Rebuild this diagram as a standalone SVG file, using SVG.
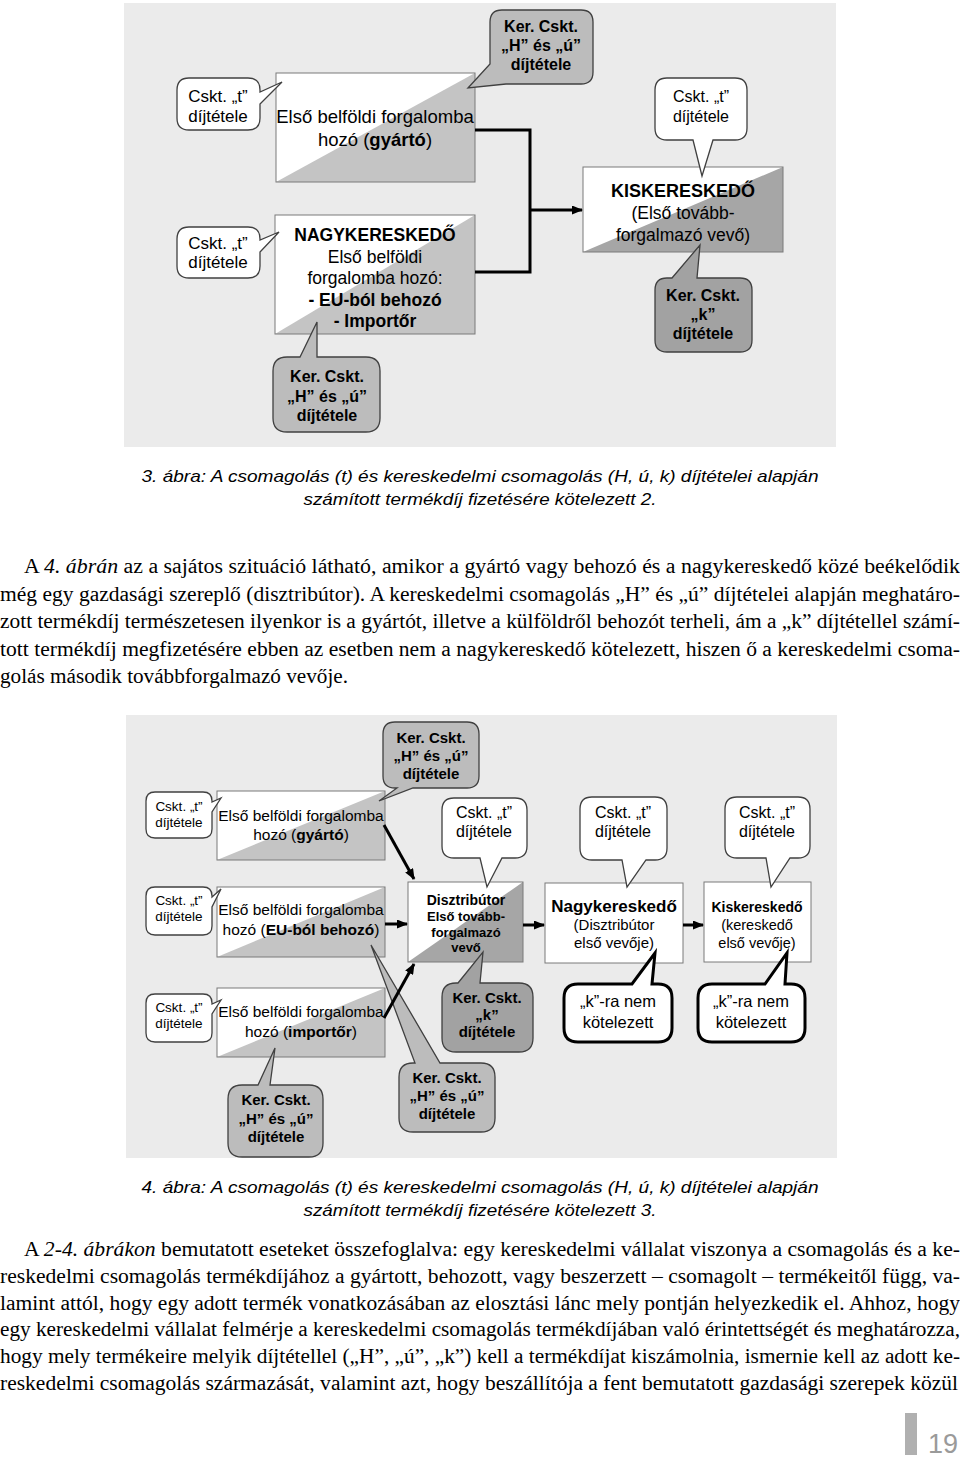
<svg xmlns="http://www.w3.org/2000/svg" width="960" height="1458" viewBox="0 0 960 1458">
<style>
.bg{fill:#ebebeb}
.bw{fill:#fff}
.ol{fill:none;stroke:#7a7a7a;stroke-width:1}
.tri1{fill:#c4c4c4}
.tri2{fill:#a6a6a6}
.cw{fill:#fff;stroke:#404040;stroke-width:1.3}
.cg{fill:#bcbcbc;stroke:#404040;stroke-width:1.3}
.cd{fill:#a2a2a2;stroke:#404040;stroke-width:1.3}
.cb{fill:#fff;stroke:#000;stroke-width:3}
.t{font-family:"Liberation Sans",Arial,sans-serif;fill:#000;text-anchor:middle}
.b{font-weight:bold}
.conn{stroke:#000;stroke-width:3;fill:none}
.body{font-family:"Liberation Serif","Times New Roman",serif;font-size:20.5px;fill:#000}
.cap{font-family:"Liberation Sans",Arial,sans-serif;font-style:italic;font-size:16.5px;text-anchor:middle;fill:#000}
</style>
<defs>
<marker id="ah" markerUnits="userSpaceOnUse" markerWidth="11" markerHeight="9" refX="10" refY="4.5" orient="auto">
<path d="M0,0 L11,4.5 L0,9 Z" fill="#000"/>
</marker>
</defs>
<rect width="960" height="1458" fill="#fff"/>

<!-- ===== Figure 3 ===== -->
<rect class="bg" x="124" y="3" width="712" height="444"/>

<g id="box-gyarto">
<rect class="bw" x="276" y="73" width="199" height="109"/>
<polygon class="tri1" points="276,182 475,73 475,182"/>
<rect class="ol" x="276" y="73" width="199" height="109"/>
<text class="t" font-size="18.5" x="375" y="123">Első belföldi forgalomba</text>
<text class="t" font-size="18.5" x="375" y="146">hozó (<tspan class="b">gyártó</tspan>)</text>
</g>

<g id="box-nagyker">
<rect class="bw" x="275" y="215" width="200" height="119"/>
<polygon class="tri1" points="275,334 475,215 475,334"/>
<rect class="ol" x="275" y="215" width="200" height="119"/>
<text class="t b" font-size="17.5" x="375" y="241">NAGYKERESKEDŐ</text>
<text class="t" font-size="17.5" x="375" y="263">Első belföldi</text>
<text class="t" font-size="17.5" x="375" y="284">forgalomba hozó:</text>
<text class="t b" font-size="17.5" x="375" y="306">- EU-ból behozó</text>
<text class="t b" font-size="17.5" x="375" y="327">- Importőr</text>
</g>

<g id="box-kisker">
<rect class="bw" x="583" y="167" width="200" height="85"/>
<polygon class="tri2" points="583,252 783,167 783,252"/>
<rect class="ol" x="583" y="167" width="200" height="85"/>
<text class="t b" font-size="18" x="683" y="197">KISKERESKEDŐ</text>
<text class="t" font-size="17.5" x="683" y="219">(Első tovább-</text>
<text class="t" font-size="17.5" x="683" y="241">forgalmazó vevő)</text>
</g>

<g id="call-t1">
<path class="cw" d="M189,78 H248 Q260,78 260,90 V92 L282,82 L260,104 V118 Q260,130 248,130 H189 Q177,130 177,118 V90 Q177,78 189,78 Z"/>
<text class="t" font-size="17" x="218" y="102">Cskt. „t”</text>
<text class="t" font-size="17" x="218" y="122">díjtétele</text>
</g>

<g id="call-hu1">
<path class="cg" d="M502,10 H581 Q593,10 593,22 V72 Q593,84 581,84 H506 L468,88 L490,64 V22 Q490,10 502,10 Z"/>
<text class="t b" font-size="16" x="541" y="32">Ker. Cskt.</text>
<text class="t b" font-size="16" x="541" y="51">„H” és „ú”</text>
<text class="t b" font-size="16" x="541" y="70">díjtétele</text>
</g>

<g id="call-t3">
<path class="cw" d="M667,78 H735 Q747,78 747,90 V128 Q747,140 735,140 H713 L702,176 L693,140 H667 Q655,140 655,128 V90 Q655,78 667,78 Z"/>
<text class="t" font-size="16" x="701" y="102">Cskt. „t”</text>
<text class="t" font-size="16" x="701" y="122">díjtétele</text>
</g>

<g id="call-k1">
<path class="cd" d="M667,278 H672 L700,245 L697,278 H740 Q752,278 752,290 V340 Q752,352 740,352 H667 Q655,352 655,340 V290 Q655,278 667,278 Z"/>
<text class="t b" font-size="16" x="703" y="301">Ker. Cskt.</text>
<text class="t b" font-size="16" x="703" y="320">„k”</text>
<text class="t b" font-size="16" x="703" y="339">díjtétele</text>
</g>

<g id="call-t2">
<path class="cw" d="M189,227 H248 Q260,227 260,239 V240 L279,232 L260,252 V266 Q260,278 248,278 H189 Q177,278 177,266 V239 Q177,227 189,227 Z"/>
<text class="t" font-size="17" x="218" y="249">Cskt. „t”</text>
<text class="t" font-size="17" x="218" y="268">díjtétele</text>
</g>

<g id="call-hu2">
<path class="cg" d="M287,357 H300 L317,322 L317,357 H366 Q380,357 380,371 V418 Q380,432 366,432 H287 Q273,432 273,418 V371 Q273,357 287,357 Z"/>
<text class="t b" font-size="16" x="327" y="382">Ker. Cskt.</text>
<text class="t b" font-size="16" x="327" y="402">„H” és „ú”</text>
<text class="t b" font-size="16" x="327" y="421">díjtétele</text>
</g>

<g id="connectors-fig3">
<polyline class="conn" points="475,130 530,130 530,272 475,272"/>
<line class="conn" x1="530" y1="210" x2="582" y2="210" marker-end="url(#ah)"/>
</g>

<g id="caption3">
<text class="cap" x="480" y="482" textLength="677" lengthAdjust="spacingAndGlyphs">3. ábra: A csomagolás (t) és kereskedelmi csomagolás (H, ú, k) díjtételei alapján</text>
<text class="cap" x="480" y="505" textLength="353" lengthAdjust="spacingAndGlyphs">számított termékdíj fizetésére kötelezett 2.</text>
</g>

<g id="para1" class="body">
<text x="24" y="573" textLength="936" lengthAdjust="spacingAndGlyphs">A <tspan font-style="italic">4. ábrán</tspan> az a sajátos szituáció látható, amikor a gyártó vagy behozó és a nagykereskedő közé beékelődik</text>
<text x="0" y="600.5" textLength="960" lengthAdjust="spacingAndGlyphs">még egy gazdasági szereplő (disztribútor). A kereskedelmi csomagolás „H” és „ú” díjtételei alapján meghatáro-</text>
<text x="0" y="628" textLength="960" lengthAdjust="spacingAndGlyphs">zott termékdíj természetesen ilyenkor is a gyártót, illetve a külföldről behozót terheli, ám a „k” díjtétellel számí-</text>
<text x="0" y="655.5" textLength="960" lengthAdjust="spacingAndGlyphs">tott termékdíj megfizetésére ebben az esetben nem a nagykereskedő kötelezett, hiszen ő a kereskedelmi csoma-</text>
<text x="0" y="683" textLength="348" lengthAdjust="spacingAndGlyphs">golás második továbbforgalmazó vevője.</text>
</g>

<!-- ===== Figure 4 ===== -->
<rect class="bg" x="126" y="715" width="711" height="443"/>

<g id="box-a">
<rect class="bw" x="217" y="791" width="168" height="69"/>
<polygon class="tri1" points="217,860 385,791 385,860"/>
<rect class="ol" x="217" y="791" width="168" height="69"/>
<text class="t" font-size="15.5" x="301" y="821">Első belföldi forgalomba</text>
<text class="t" font-size="15.5" x="301" y="840">hozó (<tspan class="b">gyártó</tspan>)</text>
</g>

<g id="box-b">
<rect class="bw" x="217" y="887" width="168" height="70"/>
<polygon class="tri1" points="217,957 385,887 385,957"/>
<rect class="ol" x="217" y="887" width="168" height="70"/>
<text class="t" font-size="15.5" x="301" y="915">Első belföldi forgalomba</text>
<text class="t" font-size="15.5" x="301" y="935">hozó (<tspan class="b">EU-ból behozó</tspan>)</text>
</g>

<g id="box-c">
<rect class="bw" x="217" y="988" width="168" height="69"/>
<polygon class="tri1" points="217,1057 385,988 385,1057"/>
<rect class="ol" x="217" y="988" width="168" height="69"/>
<text class="t" font-size="15.5" x="301" y="1017">Első belföldi forgalomba</text>
<text class="t" font-size="15.5" x="301" y="1037">hozó (<tspan class="b">importőr</tspan>)</text>
</g>

<g id="box-dist">
<rect class="bw" x="408" y="882" width="115" height="80"/>
<polygon class="tri2" points="408,962 523,882 523,962"/>
<rect class="ol" x="408" y="882" width="115" height="80"/>
<text class="t b" font-size="14" x="466" y="905">Disztribútor</text>
<text class="t b" font-size="13" x="466" y="921">Első tovább-</text>
<text class="t b" font-size="13" x="466" y="937">forgalmazó</text>
<text class="t b" font-size="13" x="466" y="952">vevő</text>
</g>

<g id="box-nagy">
<rect class="bw" x="545" y="883" width="138" height="80"/>
<rect class="ol" x="545" y="883" width="138" height="80"/>
<text class="t b" font-size="17" x="614" y="912">Nagykereskedő</text>
<text class="t" font-size="15" x="614" y="930">(Disztribútor</text>
<text class="t" font-size="15" x="614" y="948">első vevője)</text>
</g>

<g id="box-kisk">
<rect class="bw" x="704" y="882" width="107" height="80"/>
<rect class="ol" x="704" y="882" width="107" height="80"/>
<text class="t b" font-size="14" x="757" y="912">Kiskereskedő</text>
<text class="t" font-size="14.5" x="757" y="930">(kereskedő</text>
<text class="t" font-size="14.5" x="757" y="948">első vevője)</text>
</g>

<g id="call4-hu-top">
<path class="cg" d="M395,722 H467 Q479,722 479,734 V776 Q479,788 467,788 H413 L379,801 L397,788 H395 Q383,788 383,776 V734 Q383,722 395,722 Z"/>
<text class="t b" font-size="15" x="431" y="743">Ker. Cskt.</text>
<text class="t b" font-size="15" x="431" y="761">„H” és „ú”</text>
<text class="t b" font-size="15" x="431" y="779">díjtétele</text>
</g>

<g id="call4-t-a">
<path class="cw" d="M155,792 H203 Q212,792 212,801 V802 L221,798 L212,812 V829 Q212,838 203,838 H155 Q146,838 146,829 V801 Q146,792 155,792 Z"/>
<text class="t" font-size="13.5" x="179" y="811">Cskt. „t”</text>
<text class="t" font-size="13.5" x="179" y="827">díjtétele</text>
</g>

<g id="call4-t-b">
<path class="cw" d="M155,887 H203 Q212,887 212,896 V897 L221,889 L212,907 V926 Q212,935 203,935 H155 Q146,935 146,926 V896 Q146,887 155,887 Z"/>
<text class="t" font-size="13.5" x="179" y="905">Cskt. „t”</text>
<text class="t" font-size="13.5" x="179" y="921">díjtétele</text>
</g>

<g id="call4-t-c">
<path class="cw" d="M155,994 H203 Q212,994 212,1003 V1004 L221,1000 L212,1014 V1033 Q212,1042 203,1042 H155 Q146,1042 146,1033 V1003 Q146,994 155,994 Z"/>
<text class="t" font-size="13.5" x="179" y="1012">Cskt. „t”</text>
<text class="t" font-size="13.5" x="179" y="1028">díjtétele</text>
</g>

<g id="call4-hu-c">
<path class="cg" d="M242,1085 H258 L275,1048 L270,1085 H309 Q323,1085 323,1099 V1143 Q323,1157 309,1157 H242 Q228,1157 228,1143 V1099 Q228,1085 242,1085 Z"/>
<text class="t b" font-size="15" x="276" y="1105">Ker. Cskt.</text>
<text class="t b" font-size="15" x="276" y="1124">„H” és „ú”</text>
<text class="t b" font-size="15" x="276" y="1142">díjtétele</text>
</g>

<g id="call4-hu-b">
<path class="cg" d="M413,1063 H415 L371,945 L440,1063 H481 Q495,1063 495,1077 V1118 Q495,1132 481,1132 H413 Q399,1132 399,1118 V1077 Q399,1063 413,1063 Z"/>
<text class="t b" font-size="15" x="447" y="1083">Ker. Cskt.</text>
<text class="t b" font-size="15" x="447" y="1101">„H” és „ú”</text>
<text class="t b" font-size="15" x="447" y="1119">díjtétele</text>
</g>

<g id="call4-t-dist">
<path class="cw" d="M454,798 H515 Q527,798 527,810 V846 Q527,858 515,858 H502 L487,887 L480,858 H454 Q442,858 442,846 V810 Q442,798 454,798 Z"/>
<text class="t" font-size="16" x="484" y="818">Cskt. „t”</text>
<text class="t" font-size="16" x="484" y="837">díjtétele</text>
</g>

<g id="call4-t-nagy">
<path class="cw" d="M592,797 H655 Q667,797 667,809 V848 Q667,860 655,860 H646 L627,887 L622,860 H592 Q580,860 580,848 V809 Q580,797 592,797 Z"/>
<text class="t" font-size="16" x="623" y="818">Cskt. „t”</text>
<text class="t" font-size="16" x="623" y="837">díjtétele</text>
</g>

<g id="call4-t-kisk">
<path class="cw" d="M737,797 H798 Q810,797 810,809 V846 Q810,858 798,858 H790 L771,887 L766,858 H737 Q725,858 725,846 V809 Q725,797 737,797 Z"/>
<text class="t" font-size="16" x="767" y="818">Cskt. „t”</text>
<text class="t" font-size="16" x="767" y="837">díjtétele</text>
</g>

<g id="call4-k-dist">
<path class="cd" d="M456,983 H458 L483,952 L480,983 H519 Q533,983 533,997 V1038 Q533,1052 519,1052 H456 Q442,1052 442,1038 V997 Q442,983 456,983 Z"/>
<text class="t b" font-size="15" x="487" y="1003">Ker. Cskt.</text>
<text class="t b" font-size="15" x="487" y="1020">„k”</text>
<text class="t b" font-size="15" x="487" y="1037">díjtétele</text>
</g>

<g id="call4-nemk-nagy">
<path class="cb" d="M578,984 H632 L655,953 L652,984 H658 Q672,984 672,998 V1028 Q672,1042 658,1042 H578 Q564,1042 564,1028 V998 Q564,984 578,984 Z"/>
<text class="t" font-size="16.5" x="618" y="1007">„k”-ra nem</text>
<text class="t" font-size="16.5" x="618" y="1028">kötelezett</text>
</g>

<g id="call4-nemk-kisk">
<path class="cb" d="M712,984 H765 L787,953 L785,984 H791 Q805,984 805,998 V1028 Q805,1042 791,1042 H712 Q698,1042 698,1028 V998 Q698,984 712,984 Z"/>
<text class="t" font-size="16.5" x="751" y="1007">„k”-ra nem</text>
<text class="t" font-size="16.5" x="751" y="1028">kötelezett</text>
</g>

<g id="connectors-fig4">
<line class="conn" x1="384" y1="825" x2="414" y2="879" marker-end="url(#ah)"/>
<line class="conn" x1="385" y1="924" x2="407" y2="924" marker-end="url(#ah)"/>
<line class="conn" x1="384" y1="1018" x2="414" y2="964" marker-end="url(#ah)"/>
<line class="conn" x1="523" y1="925" x2="544" y2="925" marker-end="url(#ah)"/>
<line class="conn" x1="683" y1="925" x2="703" y2="925" marker-end="url(#ah)"/>
</g>

<g id="caption4">
<text class="cap" x="480" y="1193" textLength="677" lengthAdjust="spacingAndGlyphs">4. ábra: A csomagolás (t) és kereskedelmi csomagolás (H, ú, k) díjtételei alapján</text>
<text class="cap" x="480" y="1216" textLength="353" lengthAdjust="spacingAndGlyphs">számított termékdíj fizetésére kötelezett 3.</text>
</g>

<g id="para2" class="body">
<text x="24" y="1256" textLength="936" lengthAdjust="spacingAndGlyphs">A <tspan font-style="italic">2-4. ábrákon</tspan> bemutatott eseteket összefoglalva: egy kereskedelmi vállalat viszonya a csomagolás és a ke-</text>
<text x="0" y="1283" textLength="960" lengthAdjust="spacingAndGlyphs">reskedelmi csomagolás termékdíjához a gyártott, behozott, vagy beszerzett – csomagolt – termékeitől függ, va-</text>
<text x="0" y="1310" textLength="960" lengthAdjust="spacingAndGlyphs">lamint attól, hogy egy adott termék vonatkozásában az elosztási lánc mely pontján helyezkedik el. Ahhoz, hogy</text>
<text x="0" y="1336" textLength="960" lengthAdjust="spacingAndGlyphs">egy kereskedelmi vállalat felmérje a kereskedelmi csomagolás termékdíjában való érintettségét és meghatározza,</text>
<text x="0" y="1363" textLength="960" lengthAdjust="spacingAndGlyphs">hogy mely termékeire melyik díjtétellel („H”, „ú”, „k”) kell a termékdíjat kiszámolnia, ismernie kell az adott ke-</text>
<text x="0" y="1390" textLength="958" lengthAdjust="spacingAndGlyphs">reskedelmi csomagolás származását, valamint azt, hogy beszállítója a fent bemutatott gazdasági szerepek közül</text>
</g>

<g id="page-number">
<rect x="905" y="1413" width="12" height="42" fill="#b0b0b0"/>
<text x="943" y="1453" font-family="'Liberation Sans',Arial,sans-serif" font-size="27" fill="#9a9a9a" text-anchor="middle">19</text>
</g>
</svg>
